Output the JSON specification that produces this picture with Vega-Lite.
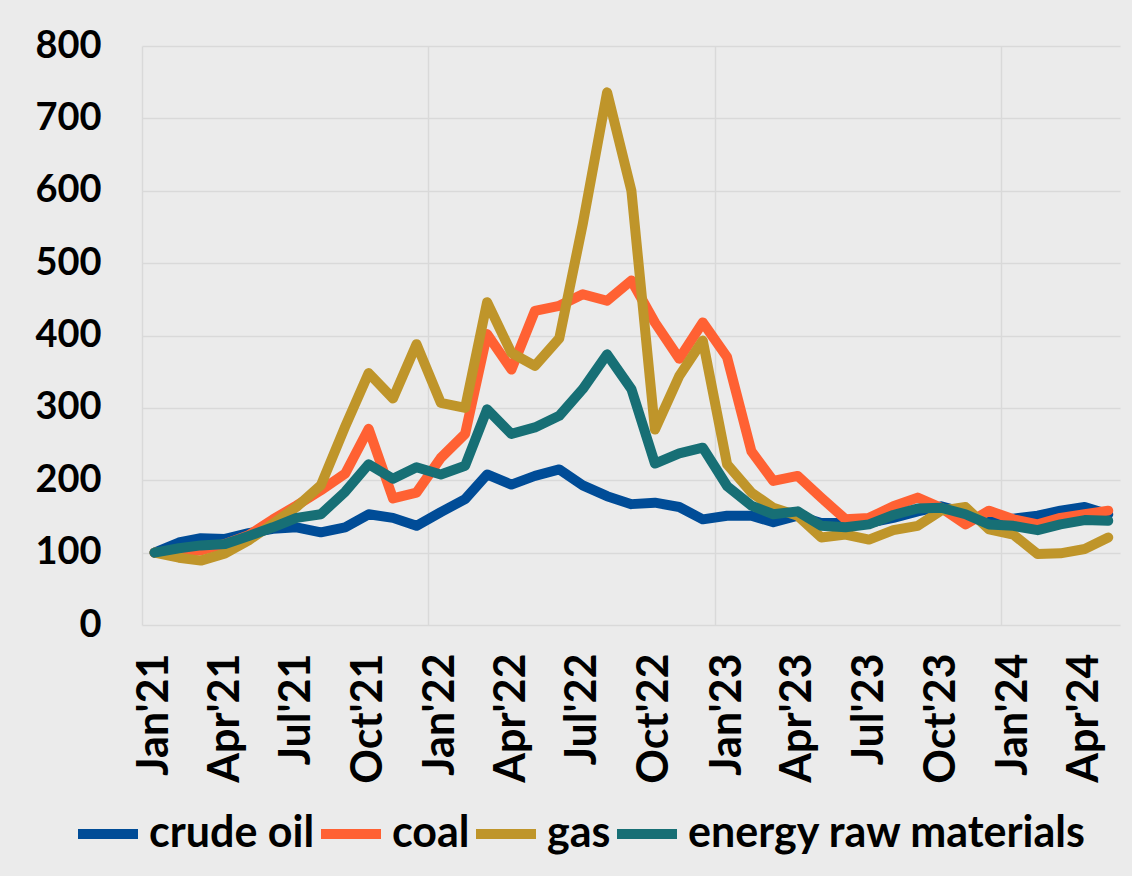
{
  "$schema": "https://vega.github.io/schema/vega-lite/v6.json",
  "width": 978,
  "height": 579,
  "autosize": {"type": "none"},
  "padding": {"left": 142, "top": 46, "right": 12, "bottom": 251},
  "background": "#EBEBEB",
  "config": {"view": {"stroke": null}, "font": "Lato"},
  "data": {
    "values": [
      {"month": "2021-01-01", "crude oil": 100, "coal": 100, "gas": 100, "energy raw materials": 100},
      {"month": "2021-02-01", "crude oil": 114, "coal": 101, "gas": 93, "energy raw materials": 106},
      {"month": "2021-03-01", "crude oil": 120, "coal": 103, "gas": 89, "energy raw materials": 110},
      {"month": "2021-04-01", "crude oil": 119, "coal": 112, "gas": 99, "energy raw materials": 112},
      {"month": "2021-05-01", "crude oil": 127, "coal": 124, "gas": 117, "energy raw materials": 123},
      {"month": "2021-06-01", "crude oil": 133, "coal": 146, "gas": 140, "energy raw materials": 135},
      {"month": "2021-07-01", "crude oil": 135, "coal": 165, "gas": 163, "energy raw materials": 148},
      {"month": "2021-08-01", "crude oil": 128, "coal": 186, "gas": 193, "energy raw materials": 153},
      {"month": "2021-09-01", "crude oil": 135, "coal": 209, "gas": 274, "energy raw materials": 184},
      {"month": "2021-10-01", "crude oil": 153, "coal": 271, "gas": 348, "energy raw materials": 222},
      {"month": "2021-11-01", "crude oil": 148, "coal": 175, "gas": 313, "energy raw materials": 202},
      {"month": "2021-12-01", "crude oil": 137, "coal": 183, "gas": 388, "energy raw materials": 218},
      {"month": "2022-01-01", "crude oil": 156, "coal": 231, "gas": 307, "energy raw materials": 208},
      {"month": "2022-02-01", "crude oil": 174, "coal": 264, "gas": 300, "energy raw materials": 220},
      {"month": "2022-03-01", "crude oil": 208, "coal": 402, "gas": 446, "energy raw materials": 298},
      {"month": "2022-04-01", "crude oil": 194, "coal": 353, "gas": 376, "energy raw materials": 264},
      {"month": "2022-05-01", "crude oil": 206, "coal": 434, "gas": 358, "energy raw materials": 273},
      {"month": "2022-06-01", "crude oil": 215, "coal": 441, "gas": 396, "energy raw materials": 289},
      {"month": "2022-07-01", "crude oil": 193, "coal": 457, "gas": 554, "energy raw materials": 326},
      {"month": "2022-08-01", "crude oil": 178, "coal": 448, "gas": 736, "energy raw materials": 374},
      {"month": "2022-09-01", "crude oil": 167, "coal": 476, "gas": 600, "energy raw materials": 326},
      {"month": "2022-10-01", "crude oil": 169, "coal": 418, "gas": 270, "energy raw materials": 223},
      {"month": "2022-11-01", "crude oil": 163, "coal": 368, "gas": 344, "energy raw materials": 237},
      {"month": "2022-12-01", "crude oil": 146, "coal": 418, "gas": 393, "energy raw materials": 245},
      {"month": "2023-01-01", "crude oil": 151, "coal": 370, "gas": 222, "energy raw materials": 192},
      {"month": "2023-02-01", "crude oil": 151, "coal": 240, "gas": 183, "energy raw materials": 165},
      {"month": "2023-03-01", "crude oil": 142, "coal": 199, "gas": 162, "energy raw materials": 153},
      {"month": "2023-04-01", "crude oil": 151, "coal": 206, "gas": 151, "energy raw materials": 157},
      {"month": "2023-05-01", "crude oil": 141, "coal": 176, "gas": 121, "energy raw materials": 137},
      {"month": "2023-06-01", "crude oil": 141, "coal": 146, "gas": 125, "energy raw materials": 135},
      {"month": "2023-07-01", "crude oil": 141, "coal": 148, "gas": 118, "energy raw materials": 139},
      {"month": "2023-08-01", "crude oil": 148, "coal": 164, "gas": 131, "energy raw materials": 152},
      {"month": "2023-09-01", "crude oil": 157, "coal": 176, "gas": 137, "energy raw materials": 161},
      {"month": "2023-10-01", "crude oil": 164, "coal": 162, "gas": 158, "energy raw materials": 162},
      {"month": "2023-11-01", "crude oil": 155, "coal": 139, "gas": 163, "energy raw materials": 153},
      {"month": "2023-12-01", "crude oil": 142, "coal": 158, "gas": 132, "energy raw materials": 139},
      {"month": "2024-01-01", "crude oil": 147, "coal": 146, "gas": 125, "energy raw materials": 137},
      {"month": "2024-02-01", "crude oil": 151, "coal": 139, "gas": 98, "energy raw materials": 131},
      {"month": "2024-03-01", "crude oil": 158, "coal": 148, "gas": 99, "energy raw materials": 139},
      {"month": "2024-04-01", "crude oil": 163, "coal": 153, "gas": 105, "energy raw materials": 145},
      {"month": "2024-05-01", "crude oil": 153, "coal": 158, "gas": 121, "energy raw materials": 144}
    ]
  },
  "transform": [
    {"fold": ["crude oil", "coal", "gas", "energy raw materials"], "as": ["series", "value"]}
  ],
  "mark": {"type": "line", "strokeWidth": 10, "strokeCap": "round", "strokeJoin": "round"},
  "encoding": {
    "x": {
      "field": "month",
      "type": "temporal",
      "scale": {
        "type": "utc",
        "domain": [
          {"year": 2020, "month": 12, "date": 16, "utc": true},
          {"year": 2024, "month": 5, "date": 16, "utc": true}
        ]
      },
      "axis": {
        "title": null,
        "values": [
          {"year": 2020, "month": 12, "date": 16, "utc": true},
          {"year": 2021, "month": 1, "date": 1, "utc": true},
          {"year": 2021, "month": 4, "date": 1, "utc": true},
          {"year": 2021, "month": 7, "date": 1, "utc": true},
          {"year": 2021, "month": 10, "date": 1, "utc": true},
          {"year": 2021, "month": 12, "date": 16, "utc": true},
          {"year": 2022, "month": 1, "date": 1, "utc": true},
          {"year": 2022, "month": 4, "date": 1, "utc": true},
          {"year": 2022, "month": 7, "date": 1, "utc": true},
          {"year": 2022, "month": 10, "date": 1, "utc": true},
          {"year": 2022, "month": 12, "date": 16, "utc": true},
          {"year": 2023, "month": 1, "date": 1, "utc": true},
          {"year": 2023, "month": 4, "date": 1, "utc": true},
          {"year": 2023, "month": 7, "date": 1, "utc": true},
          {"year": 2023, "month": 10, "date": 1, "utc": true},
          {"year": 2023, "month": 12, "date": 16, "utc": true},
          {"year": 2024, "month": 1, "date": 1, "utc": true},
          {"year": 2024, "month": 4, "date": 1, "utc": true}
        ],
        "labelExpr": "utcdate(datum.value) == 16 ? '' : utcFormat(datum.value, \"%b'%y\")",
        "labelAngle": 270,
        "labelAlign": "right",
        "labelBaseline": "middle",
        "labelPadding": 28,
        "labelFontSize": 43,
        "labelFontWeight": "bold",
        "labelColor": "#000000",
        "labelOverlap": false,
        "labelBound": false,
        "labelFlush": false,
        "ticks": false,
        "domain": false,
        "grid": true,
        "gridColor": "#D9D9D9",
        "gridWidth": 1.5,
        "gridOpacity": {"condition": {"test": "utcdate(datum.value) == 16", "value": 1}, "value": 0}
      }
    },
    "y": {
      "field": "value",
      "type": "quantitative",
      "scale": {"domain": [0, 800], "nice": false},
      "axis": {
        "title": null,
        "values": [0, 100, 200, 300, 400, 500, 600, 700, 800],
        "labelPadding": 41,
        "labelFontSize": 38,
        "labelFontWeight": "bold",
        "labelColor": "#000000",
        "ticks": false,
        "domain": false,
        "grid": true,
        "gridColor": "#D9D9D9",
        "gridWidth": 1.5
      }
    },
    "color": {
      "field": "series",
      "type": "nominal",
      "scale": {
        "domain": ["crude oil", "coal", "gas", "energy raw materials"],
        "range": ["#004C97", "#FF6133", "#BF952A", "#176F75"]
      },
      "legend": {
        "title": null,
        "orient": "none",
        "legendX": -69,
        "legendY": 753,
        "direction": "horizontal",
        "symbolType": "stroke",
        "symbolSize": 3600,
        "symbolStrokeWidth": 10,
        "labelFontSize": 43,
        "labelFontWeight": "bold",
        "labelColor": "#000000",
        "labelLimit": 600,
        "labelOffset": 6,
        "columnPadding": -14,
        "padding": 0
      }
    }
  }
}
